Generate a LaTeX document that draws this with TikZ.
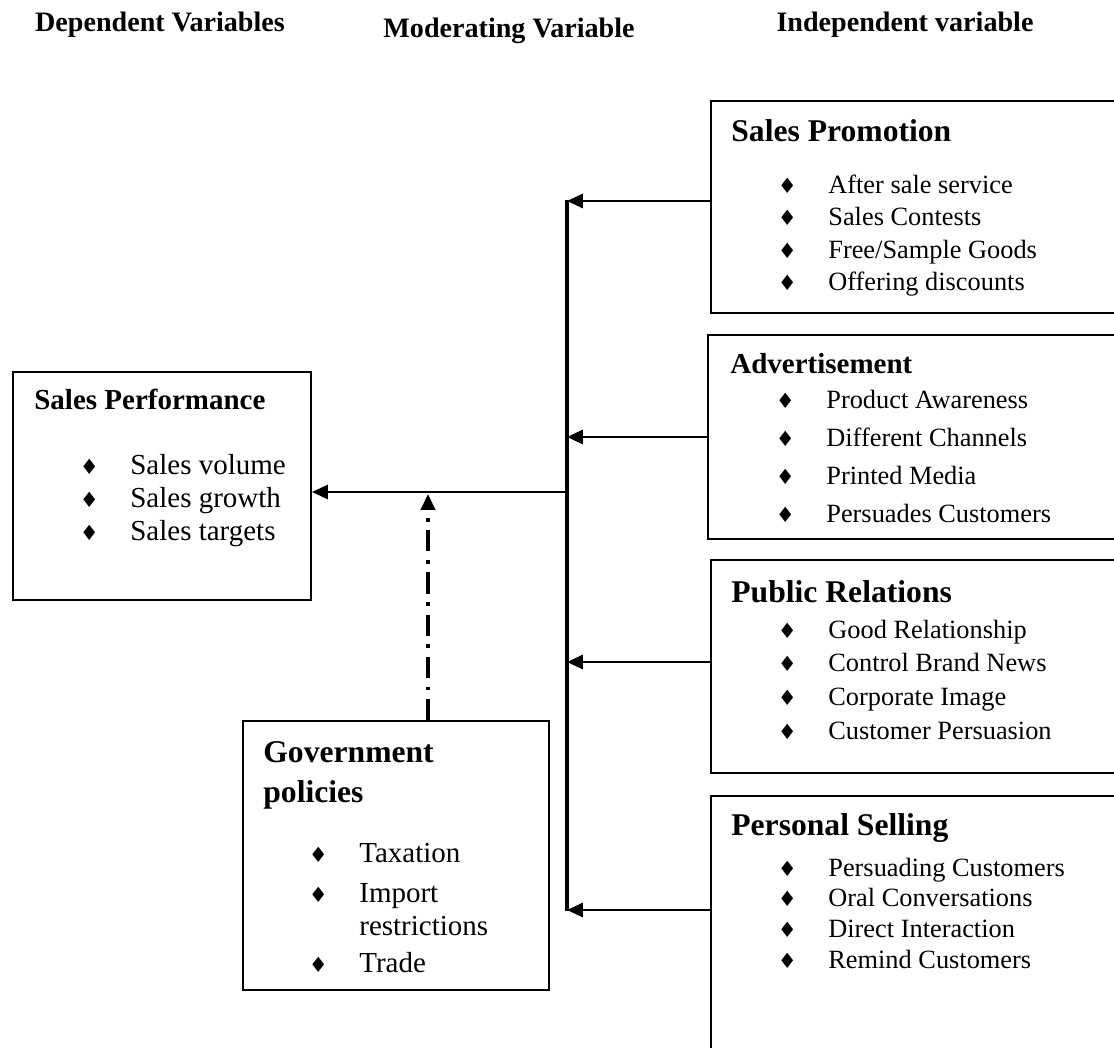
\documentclass[tikz,border=0pt]{standalone}
\usepackage{fontspec}
\setmainfont{Liberation Serif}
\newfontfamily\symfont{DejaVu Sans}
\usetikzlibrary{positioning, calc, arrows.meta, fit}

\newcommand{\dmd}{\llap{{\symfont\fontsize{12}{12}\selectfont ♦}\hspace{18pt}}}

\begin{document}
\begin{tikzpicture}[x=0.02cm, y=-0.02cm,
    box/.style={draw, line width=1.1pt, inner sep=0pt},
    head/.style={anchor=base, font=\fontsize{16}{18}\selectfont\bfseries},
    title/.style={anchor=base west, inner sep=0pt, font=\fontsize{18}{20}\selectfont\bfseries},
    item/.style={anchor=base west, inner sep=0pt, font=\fontsize{15}{18}\selectfont},
    arr/.style={-{Triangle[length=9pt,width=8pt]}, line width=1.5pt},
    spine/.style={line width=2.5pt},
    modarr/.style={arr, line width=2pt, dash pattern=on 12pt off 5pt on 2pt off 5pt}]
    \useasboundingbox (0,0) rectangle (1114,1047);
    \clip (0,0) rectangle (1114,1047);

    % Headers
    \node[head] (dep) at (160,32) {Dependent Variables};
    \node[head] (mod) at (509,38) {Moderating Variable};
    \node[head] (ind) at (905,32) {Independent variable};

    % Independent variables
    \node[box, fit={(711,101) (1130,313)}] (promo) {};
    \node[title] (promo-t) at (731,142) {Sales Promotion};
    \foreach \txt [count=\i from 0] in {After sale service, Sales Contests, Free/Sample Goods, Offering discounts}
        \node[item] (promo-\i) at (828,194+32*\i) {\dmd\txt};

    \node[box, fit={(708,335) (1130,539)}] (adv) {};
    \node[title, font=\fontsize{16.5}{18}\selectfont\bfseries] (adv-t) at (730,373) {Advertisement};
    \foreach \txt [count=\i from 0] in {Product Awareness, Different Channels, Printed Media, Persuades Customers}
        \node[item] (adv-\i) at (826,408+38.2*\i) {\dmd\txt};

    \node[box, fit={(711,560) (1130,773)}] (pr) {};
    \node[title] (pr-t) at (731,602) {Public Relations};
    \foreach \txt [count=\i from 0] in {Good Relationship, Control Brand News, Corporate Image, Customer Persuasion}
        \node[item] (pr-\i) at (828,638+33.8*\i) {\dmd\txt};

    \node[box, fit={(711,796) (1130,1060)}] (ps) {};
    \node[title] (ps-t) at (731,835) {Personal Selling};
    \foreach \txt [count=\i from 0] in {Persuading Customers, Oral Conversations, Direct Interaction, Remind Customers}
        \node[item] (ps-\i) at (828,876+30.7*\i) {\dmd\txt};

    % Dependent variable
    \node[box, fit={(13,372) (311,600)}] (perf) {};
    \node[title, font=\fontsize{16.5}{18}\selectfont\bfseries] (perf-t) at (34,409) {Sales Performance};
    \foreach \txt [count=\i from 0] in {Sales volume, Sales growth, Sales targets}
        \node[item, font=\fontsize{16.5}{18}\selectfont] (perf-\i) at (130,474+33*\i) {\dmd\txt};

    % Moderating variable
    \node[box, fit={(243,721) (549,990)}] (gov) {};
    \node[title] (gov-t1) at (263,762) {Government};
    \node[title] (gov-t2) at (263,802) {policies};
    \node[item, font=\fontsize{16.5}{18}\selectfont] (gov-1) at (359,862) {\dmd Taxation};
    \node[item, font=\fontsize{16.5}{18}\selectfont] (gov-2) at (359,902) {\dmd Import};
    \node[item, font=\fontsize{16.5}{18}\selectfont] (gov-3) at (359,935) {restrictions};
    \node[item, font=\fontsize{16.5}{18}\selectfont] (gov-4) at (359,972) {\dmd Trade};

    % Connectors
    \coordinate (j1) at (567,201);
    \coordinate (j2) at (567,437);
    \coordinate (j3) at (567,662);
    \coordinate (j4) at (567,910);
    \coordinate (jm) at (567,492);
    \coordinate (mm) at (428,494);
    \draw[spine] ($(j1)+(0,-1)$) -- ($(j4)+(0,1)$);
    \draw[arr] (promo.west |- j1) -- (j1);
    \draw[arr] (adv.west |- j2) -- (j2);
    \draw[arr] (pr.west |- j3) -- (j3);
    \draw[arr] (ps.west |- j4) -- (j4);
    \draw[arr] (jm) -- (perf.east |- jm);
    \draw[modarr] (gov.north -| mm) -- (mm);
\end{tikzpicture}
\end{document}
